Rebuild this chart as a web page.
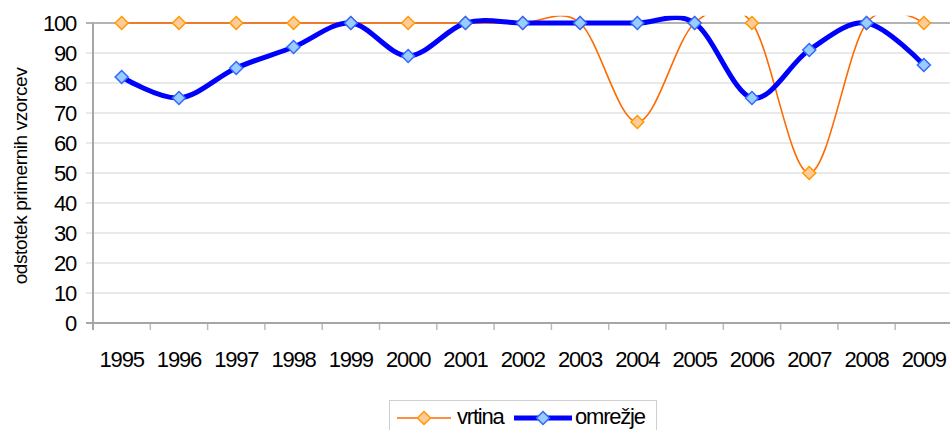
<!DOCTYPE html>
<html>
<head>
<meta charset="utf-8">
<script src="https://cdn.jsdelivr.net/npm/d3@7"></script>
<style>
  body { margin: 0; background: #fff; }
  text { font-family: "Liberation Sans", Arial, sans-serif; fill: #000; }
</style>
</head>
<body>
<div id="chart"></div>
<script>
// Data
const years = ["1995", "1996", "1997", "1998", "1999", "2000", "2001", "2002",
  "2003", "2004", "2005", "2006", "2007", "2008", "2009"];
const vrtina = [100, 100, 100, 100, 100, 100, 100, 100, 100, 67, 100, 100, 50, 100, 100];
const omrezje = [82, 75, 85, 92, 100, 89, 100, 100, 100, 100, 100, 75, 91, 100, 86];
const yTicks = [0, 10, 20, 30, 40, 50, 60, 70, 80, 90, 100];

// Dimensions
const dimensions = {
  width: 950,
  height: 430,
  left: 93,
  top: 23,
  bottom: 323,
  step: 57.3,
};

const svg = d3
  .select("#chart")
  .append("svg")
  .attr("width", dimensions.width)
  .attr("height", dimensions.height);

// Scales
const xScale = d3
  .scaleBand()
  .domain(years)
  .range([dimensions.left, dimensions.left + dimensions.step * years.length])
  .padding(0);
const xc = (d) => xScale(d) + xScale.bandwidth() / 2;

const yScale = d3
  .scaleLinear()
  .domain([0, 100])
  .range([dimensions.bottom, dimensions.top]);

// Gridlines
svg
  .append("g")
  .selectAll("line")
  .data(yTicks.filter((d) => d > 0))
  .join("line")
  .attr("x1", dimensions.left - 7)
  .attr("x2", dimensions.width)
  .attr("y1", (d) => yScale(d))
  .attr("y2", (d) => yScale(d))
  .attr("stroke", (d) => (d === 100 ? "#9a9a9a" : "#d4d4d4"))
  .attr("stroke-width", (d) => (d === 100 ? 1.5 : 1));

// Y labels
svg
  .append("g")
  .selectAll("text")
  .data(yTicks)
  .join("text")
  .attr("x", 76)
  .attr("y", (d) => yScale(d) + 8)
  .attr("text-anchor", "end")
  .style("font-size", "22px")
  .style("letter-spacing", "-1.2px")
  .text((d) => d);

// X ticks
const bounds = years.map((d) => xScale(d)).concat([xScale(years[years.length - 1]) + xScale.bandwidth()]);
svg
  .append("g")
  .selectAll("line")
  .data(bounds)
  .join("line")
  .attr("x1", (d) => d)
  .attr("x2", (d) => d)
  .attr("y1", dimensions.bottom)
  .attr("y2", dimensions.bottom + 7)
  .attr("stroke", "#bbbbbb")
  .attr("stroke-width", 1.5);

// Axes lines
svg
  .append("line")
  .attr("x1", dimensions.left - 7)
  .attr("x2", dimensions.width)
  .attr("y1", dimensions.bottom)
  .attr("y2", dimensions.bottom)
  .attr("stroke", "#a6a6a6")
  .attr("stroke-width", 2);
svg
  .append("line")
  .attr("x1", dimensions.left)
  .attr("x2", dimensions.left)
  .attr("y1", dimensions.top)
  .attr("y2", dimensions.bottom + 7)
  .attr("stroke", "#a6a6a6")
  .attr("stroke-width", 2);

// X labels
svg
  .append("g")
  .selectAll("text")
  .data(years)
  .join("text")
  .attr("x", (d) => xc(d))
  .attr("y", 367)
  .attr("text-anchor", "middle")
  .style("font-size", "22px")
  .style("letter-spacing", "-1.2px")
  .text((d) => d);

// Y title
svg
  .append("text")
  .attr("transform", "translate(27,176) rotate(-90)")
  .attr("text-anchor", "middle")
  .style("font-size", "19px")
  .style("letter-spacing", "-0.4px")
  .text("odstotek primernih vzorcev");

// Clip
svg
  .append("clipPath")
  .attr("id", "plot-clip")
  .append("rect")
  .attr("x", dimensions.left)
  .attr("y", yScale(102.4))
  .attr("width", dimensions.width - dimensions.left)
  .attr("height", dimensions.bottom - yScale(102.4));

const line = d3
  .line()
  .x((d, i) => xc(years[i]))
  .y((d) => yScale(d))
  .curve(d3.curveCatmullRom.alpha(0));

const diamond = (s) => `M0,${-s}L${s},0L0,${s}L${-s},0Z`;

const series = [
  { name: "vrtina", values: vrtina, color: "#ff6a00", width: 1.6, fill: "#ffcc99", mstroke: "#ff9900" },
  { name: "omrežje", values: omrezje, color: "#0000ff", width: 5, fill: "#99ccff", mstroke: "#3366ff" },
];

series.forEach((s) => {
  svg
    .append("path")
    .datum(s.values)
    .attr("clip-path", "url(#plot-clip)")
    .attr("d", line)
    .attr("fill", "none")
    .attr("stroke", s.color)
    .attr("stroke-width", s.width)
    .attr("stroke-linejoin", "round");

  svg
    .append("g")
    .selectAll("path")
    .data(s.values)
    .join("path")
    .attr("transform", (d, i) => `translate(${xc(years[i])},${yScale(d)})`)
    .attr("d", diamond(6.5))
    .attr("fill", s.fill)
    .attr("stroke", s.mstroke)
    .attr("stroke-width", 1.5);
});

// Legend
const legend = svg.append("g");
legend
  .append("rect")
  .attr("x", 389.5)
  .attr("y", 400.5)
  .attr("width", 267)
  .attr("height", 40)
  .attr("fill", "#fff")
  .attr("stroke", "#cfcfcf");

const legendItems = [
  { s: series[0], x1: 397, x2: 451, tx: 457 },
  { s: series[1], x1: 514, x2: 572, tx: 575 },
];
legendItems.forEach((d) => {
  const ly = 418;
  legend
    .append("line")
    .attr("x1", d.x1)
    .attr("x2", d.x2)
    .attr("y1", ly)
    .attr("y2", ly)
    .attr("stroke", d.s.color)
    .attr("stroke-width", d.s.width);
  legend
    .append("path")
    .attr("transform", `translate(${(d.x1 + d.x2) / 2},${ly})`)
    .attr("d", diamond(6.5))
    .attr("fill", d.s.fill)
    .attr("stroke", d.s.mstroke)
    .attr("stroke-width", 1.5);
  legend
    .append("text")
    .attr("x", d.tx)
    .attr("y", 424)
    .style("font-size", "22px")
    .style("letter-spacing", "-1.2px")
    .text(d.s.name);
});
</script>
</body>
</html>
